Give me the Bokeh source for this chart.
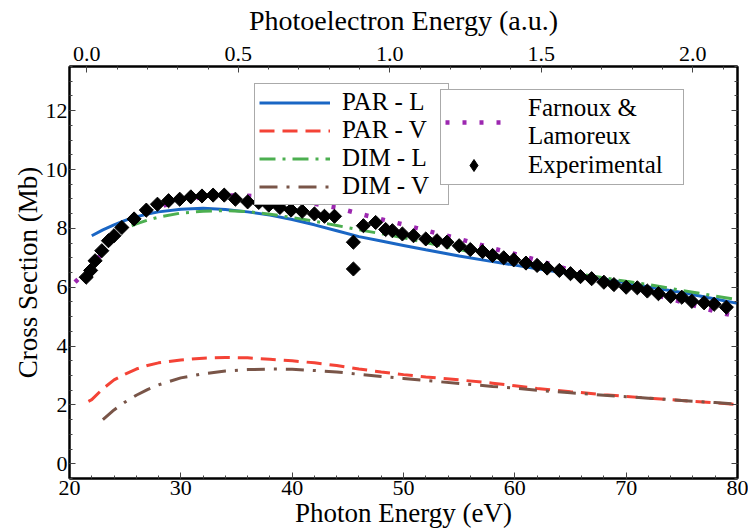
from bokeh.plotting import figure
from bokeh.models import (Range1d, LinearAxis, SingleIntervalTicker, Legend,
                          LegendItem, PrintfTickFormatter, CustomLabelingPolicy)
from bokeh.embed import file_html
from bokeh.resources import INLINE
import numpy as np

# Neon 2p photoionization: photon energy (eV) vs cross section (Mb)
IONIZATION_EV = 21.56
HARTREE_EV = 27.211

par_l_e = [22, 23, 24, 25, 26, 27, 28, 30, 32, 34, 36, 38, 40, 42, 44, 46, 48,
           50, 52, 55, 58, 60, 62, 65, 68, 70, 72, 75, 78, 80]
par_l = [7.75, 7.95, 8.12, 8.27, 8.39, 8.49, 8.56, 8.65, 8.68, 8.64, 8.56, 8.45,
         8.3, 8.12, 7.92, 7.72, 7.57, 7.42, 7.27, 7.06, 6.87, 6.75, 6.63, 6.46,
         6.27, 6.15, 6.01, 5.82, 5.6, 5.45]

par_v_e = [21.7, 22, 23, 24, 25, 26, 27, 28, 30, 32, 34, 36, 38, 40, 42, 44, 46,
           48, 50, 52, 55, 58, 60, 62, 65, 68, 70, 72, 75, 78, 80]
par_v = [2.12, 2.18, 2.55, 2.85, 3.05, 3.22, 3.34, 3.43, 3.53, 3.59, 3.61, 3.6,
         3.55, 3.5, 3.43, 3.34, 3.22, 3.12, 3.03, 2.95, 2.85, 2.74, 2.65, 2.56,
         2.45, 2.35, 2.29, 2.23, 2.15, 2.07, 2.01]

dim_l_e = [23, 24, 25, 26, 27, 28, 30, 32, 34, 36, 38, 40, 42, 44, 46, 48, 50,
           52, 54, 56, 58, 60, 62, 64, 66, 68, 70, 72, 74, 76, 78, 80]
dim_l = [7.55, 7.8, 8.0, 8.15, 8.28, 8.38, 8.52, 8.58, 8.6, 8.57, 8.48, 8.37,
         8.24, 8.1, 7.95, 7.82, 7.68, 7.52, 7.36, 7.2, 7.03, 6.87, 6.7, 6.57,
         6.44, 6.32, 6.2, 6.09, 5.96, 5.83, 5.7, 5.58]

dim_v_e = [23, 24, 25, 26, 27, 28, 30, 32, 34, 36, 38, 40, 42, 44, 46, 48, 50,
           52, 55, 58, 60, 62, 65, 68, 70, 72, 75, 78, 80]
dim_v = [1.5, 1.83, 2.1, 2.33, 2.52, 2.68, 2.92, 3.06, 3.15, 3.2, 3.22, 3.21,
         3.17, 3.12, 3.04, 2.97, 2.9, 2.83, 2.73, 2.63, 2.57, 2.5, 2.41, 2.33,
         2.28, 2.23, 2.15, 2.08, 2.02]

fl_e = [20.5, 21.5, 22.5, 23.5, 24.5, 25.5, 26.5, 27.5, 28.5, 30, 32, 34, 36, 38,
        40, 42, 44, 46, 48, 50, 52, 54, 56, 58, 60, 62, 64, 66, 68, 70, 72, 74,
        76, 78, 80]
fl = [6.17, 6.55, 6.95, 7.45, 7.9, 8.22, 8.47, 8.65, 8.78, 8.95, 9.06, 9.12,
      9.11, 9.05, 8.96, 8.84, 8.7, 8.5, 8.31, 8.13, 7.93, 7.74, 7.54, 7.32, 7.13,
      6.92, 6.7, 6.46, 6.2, 6.0, 5.8, 5.6, 5.39, 5.18, 5.0]

exp_e = [21.5, 21.9, 22.3, 22.9, 23.5, 24.0, 24.7, 25.8, 26.9, 27.9, 28.9, 29.9,
         30.9, 31.9, 32.9, 33.9, 34.9, 36.0, 37.0, 37.9, 38.9, 39.9, 40.9, 42.0,
         42.9, 43.8, 45.5, 45.5, 46.4, 47.5, 48.4, 49.0, 49.9, 50.9, 52.0, 53.0,
         53.9, 55.0, 56.0, 57.1, 58.0, 59.0, 59.9, 61.0, 62.0, 62.9, 64.0, 65.0,
         65.9, 66.9, 68.0, 68.9, 70.0, 71.0, 71.9, 72.9, 74.0, 75.0, 75.9, 77.0,
         77.9, 79.0]
exp_cs = [6.34, 6.57, 6.9, 7.24, 7.58, 7.75, 8.03, 8.32, 8.62, 8.82, 8.94, 8.99,
          9.07, 9.1, 9.13, 9.13, 8.99, 8.9, 8.88, 8.79, 8.71, 8.62, 8.58, 8.49,
          8.41, 8.41, 6.62, 7.53, 8.09, 8.2, 7.96, 7.92, 7.81, 7.75, 7.64, 7.58,
          7.53, 7.41, 7.28, 7.21, 7.08, 7.0, 6.93, 6.82, 6.74, 6.65, 6.57, 6.46,
          6.36, 6.29, 6.17, 6.09, 6.0, 5.98, 5.87, 5.78, 5.69, 5.66, 5.52, 5.47,
          5.42, 5.32]

FONT = "Liberation Serif"
X0, X1 = 20, 80

p = figure(width=748, height=530, output_backend="svg", toolbar_location=None,
           x_range=Range1d(X0, X1), y_range=Range1d(-0.5, 13.5),
           min_border_left=69, min_border_right=11, min_border_top=66,
           min_border_bottom=52)
p.grid.visible = False
p.outline_line_color = "black"
p.outline_line_width = 2
p.background_fill_color = "white"
p.border_fill_color = "white"

bottom = p.below[0]
left = p.left[0]
bottom.ticker = SingleIntervalTicker(interval=10, num_minor_ticks=5)
left.ticker = SingleIntervalTicker(interval=2, num_minor_ticks=4)
bottom.axis_label = "Photon Energy (eV)"
left.axis_label = "Cross Section (Mb)"

# top axis in atomic units of photoelectron energy
p.extra_x_ranges = {"au": Range1d((X0 - IONIZATION_EV) / HARTREE_EV,
                                  (X1 - IONIZATION_EV) / HARTREE_EV)}
top = LinearAxis(x_range_name="au",
                 ticker=SingleIntervalTicker(interval=0.5, num_minor_ticks=5),
                 formatter=PrintfTickFormatter(format="%.1f"),
                 axis_label="Photoelectron Energy (a.u.)")
p.add_layout(top, "above")

# right axis: ticks only
no_labels = CustomLabelingPolicy(code="""
    for (const i of indices)
        indices.unset(i)
    return indices
""")
right = LinearAxis(ticker=SingleIntervalTicker(interval=2, num_minor_ticks=4),
                   major_label_policy=no_labels)
p.add_layout(right, "right")

for ax in (bottom, left, top, right):
    ax.axis_line_width = 2
    ax.axis_line_color = "black"
    ax.major_tick_in = 6
    ax.major_tick_out = 0
    ax.minor_tick_in = 3
    ax.minor_tick_out = 0
    ax.major_tick_line_color = "#444444"
    ax.minor_tick_line_color = "#444444"
    ax.major_label_text_font = FONT
    ax.axis_label_text_font = FONT
    ax.axis_label_text_font_style = "normal"
    ax.axis_label_text_color = "black"
    ax.major_label_text_color = "black"
    ax.axis_label_text_font_size = "27px"
    ax.major_label_text_font_size = "22px"
    ax.major_label_standoff = 2
    ax.axis_label_standoff = 0
top.axis_label_text_font_size = "28px"
top.major_label_standoff = 6
top.axis_label_standoff = 8
right.major_label_text_font_size = "1px"
right.major_label_standoff = 0

r_parl = p.line(par_l_e, par_l, line_color="#1a66c4", line_width=3)
r_parv = p.line(par_v_e, par_v, line_color="#f44336", line_width=3,
                line_dash="15 8")
r_diml = p.line(dim_l_e, dim_l, line_color="#4caf50", line_width=3,
                line_dash="16 7 3 7")
r_dimv = p.line(dim_v_e, dim_v, line_color="#795548", line_width=3,
                line_dash="18 9 3 9")
r_fl = p.line(fl_e, fl, line_color="#9c27b0", line_width=4.5,
              line_dash="4 13")
r_exp = p.scatter(exp_e, exp_cs, marker="square", angle=np.pi / 4, size=10,
                  fill_color="black", line_color="black")
# diamond key for the legend, sitting inside the first measured point
r_exp_key = p.scatter(exp_e[:1], exp_cs[:1], marker="diamond", size=12,
                      fill_color="black", line_color="black")

leg_common = dict(label_text_font=FONT, label_text_font_size="25px",
                  label_text_color="black",
                  border_line_color="#555555", border_line_width=1.5,
                  background_fill_alpha=1.0, spacing=0, padding=4,
                  label_height=23, margin=0)

leg1 = Legend(items=[LegendItem(label="PAR - L", renderers=[r_parl]),
                     LegendItem(label="PAR - V", renderers=[r_parv]),
                     LegendItem(label="DIM - L", renderers=[r_diml]),
                     LegendItem(label="DIM - V", renderers=[r_dimv])],
              location=(185, 273), glyph_width=71, glyph_height=23,
              label_standoff=12, label_width=102, **leg_common)
leg2 = Legend(items=[LegendItem(label="Farnoux &\nLamoreux", renderers=[r_fl]),
                     LegendItem(label="Experimental", renderers=[r_exp_key])],
              location=(371, 293), glyph_width=57, glyph_height=30,
              label_standoff=26, label_width=151, **leg_common)
p.add_layout(leg1, "center")
p.add_layout(leg2, "center")

open("out.html", "w").write(file_html(p, INLINE))
